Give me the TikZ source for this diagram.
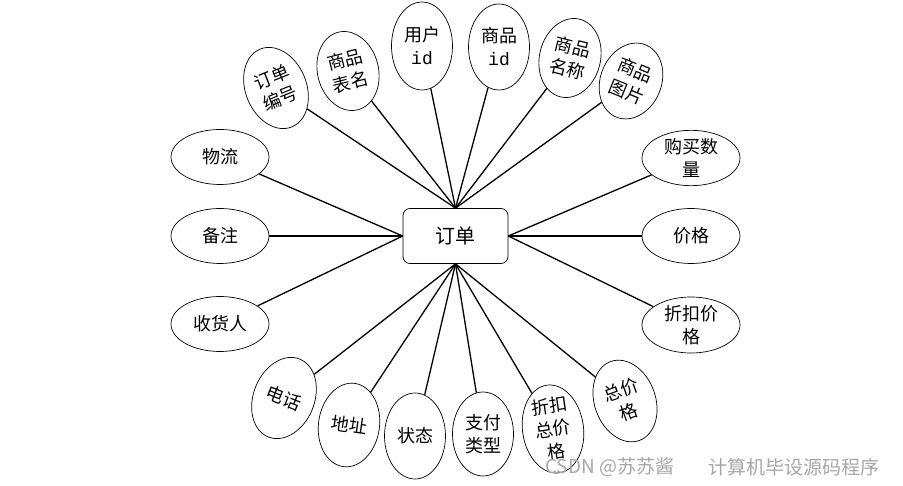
\documentclass[tikz,border=0pt]{standalone}
\usepackage{fontspec}
\newfontfamily\cjk{Noto Sans CJK SC}
\setmonofont{Liberation Mono}
\usetikzlibrary{shapes.geometric}
\begin{document}
\begin{tikzpicture}[x=1pt,y=-1pt,
  attr/.style={ellipse, draw, line width=0.7pt, inner sep=0pt, align=center,
    font=\cjk\fontsize{18}{23}\selectfont},
  hz/.style={attr, minimum width=98pt, minimum height=55pt},
  vt/.style={attr, minimum width=61pt, minimum height=84pt},
  conn/.style={line width=1.3pt},
  wm/.style={text=black!35, font=\cjk\fontsize{19}{20}\selectfont, inner sep=0pt}]
\useasboundingbox (0,0) rectangle (903,486);

\node[draw, rounded corners=7pt, line width=0.7pt, minimum width=105pt, minimum height=55pt,
  font=\cjk\fontsize{20}{23}\selectfont] (o) at (455.5,236) {订单};

% left
\node[hz] (wl) at (220,157) {物流};
\node[hz] (bz) at (220,236) {备注};
\node[hz] (sh) at (220,324) {收货人};
% right
\node[hz, minimum height=51pt] (gm) at (691,158) {购买数\\量};
\node[hz] (jg) at (691,236) {价格};
\node[hz, minimum height=51pt] (zk) at (691,325) {折扣价\\格};
% top
\node[vt, rotate=22] (dd) at (276,88) {订单\\编号};
\node[vt, rotate=14, minimum height=80pt] (bm) at (348,71) {商品\\表名};
\node[vt, minimum height=88pt] (yh) at (422,46) {用户\\{\ttfamily id}};
\node[vt, minimum height=86pt] (sp) at (499,47) {商品\\{\ttfamily id}};
\node[vt, rotate=-14, minimum height=80pt] (mc) at (570,58) {商品\\名称};
\node[vt, rotate=-22, minimum height=78pt] (tp) at (631,81) {商品\\图片};
% bottom
\node[vt, rotate=-22] (dh) at (284,398) {电话};
\node[vt, rotate=-8] (dz) at (349,425) {地址};
\node[vt, minimum height=86pt] (zt) at (415,436) {状态};
\node[vt] (zf) at (483,434) {支付\\类型};
\node[vt, rotate=8, minimum height=88pt] (zz) at (553,429) {折扣\\总价\\格};
\node[vt, rotate=20] (zj) at (625,401) {总价\\格};

\foreach \n in {wl,bz,sh} \draw[conn] (\n) -- (o.west);
\foreach \n in {gm,jg,zk} \draw[conn] (\n) -- (o.east);
\foreach \n in {dd,bm,yh,sp,mc,tp} \draw[conn] (\n) -- (o.north);
\foreach \n in {dh,dz,zt,zf,zz,zj} \draw[conn] (\n) -- (o.south);

\node[wm, anchor=west] (w1) at (545,467) {CSDN @苏苏酱};
\node[wm, anchor=west] (w2) at (708,467) {计算机毕设源码程序};
\end{tikzpicture}
\end{document}
